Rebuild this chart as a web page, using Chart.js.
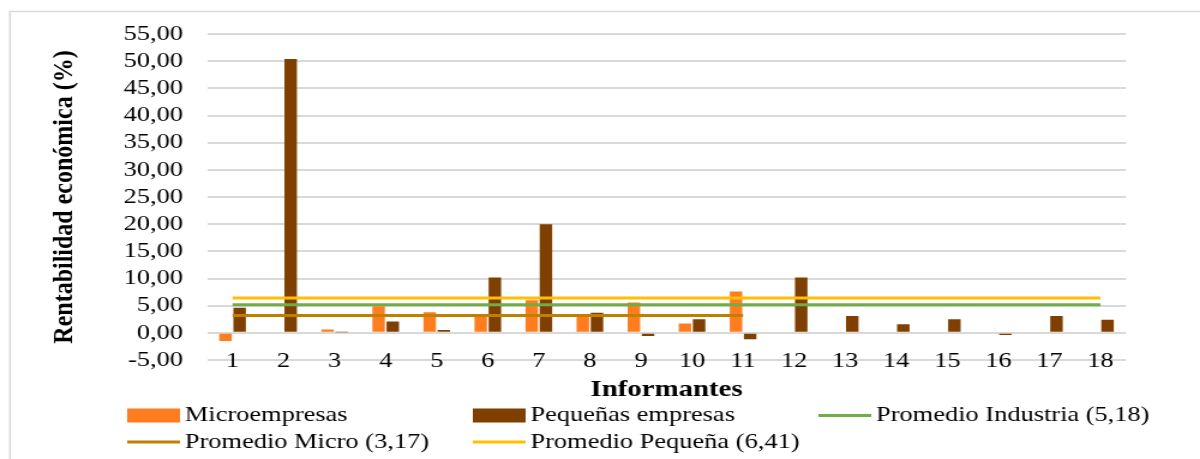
<!DOCTYPE html>
<html>
<head>
<meta charset="utf-8">
<title>Rentabilidad económica por informante</title>
<style>
  html, body { margin: 0; padding: 0; background: #ffffff; overflow: hidden; }
  /* the chart is laid out on a 1000px canvas and widened to fill the 1200px page */
  #wrap { width: 1000px; height: 459px; transform: scaleX(1.2); transform-origin: 0 0; }
  canvas { display: block; }
</style>
<script src="https://cdn.jsdelivr.net/npm/chart.js@4.4.1/dist/chart.umd.min.js"></script>
</head>
<body>
<div id="wrap"><canvas id="chart" width="1000" height="459"></canvas></div>
<script>
// Informantes (eje X)
const informantes = ['1','2','3','4','5','6','7','8','9','10','11','12','13','14','15','16','17','18'];

// Rentabilidad económica (%) por tipo de empresa
const microempresas = [-1.5, 0.0, 0.6, 4.9, 3.8, 3.0, 6.0, 3.3, 5.6, 1.7, 7.6];
const pequenasEmpresas = [4.6, 50.4, 0.1, 2.1, 0.5, 10.2, 20.0, 3.7, -0.6, 2.5, -1.2, 10.2, 3.1, 1.6, 2.5, -0.4, 3.1, 2.4];

// Promedios
const promedioIndustria = [5.18, 5.18, 5.18, 5.18, 5.18, 5.18, 5.18, 5.18, 5.18, 5.18, 5.18, 5.18, 5.18, 5.18, 5.18, 5.18, 5.18, 5.18];
const promedioMicro = [3.17, 3.17, 3.17, 3.17, 3.17, 3.17, 3.17, 3.17, 3.17, 3.17, 3.17];
const promedioPequena = [6.41, 6.41, 6.41, 6.41, 6.41, 6.41, 6.41, 6.41, 6.41, 6.41, 6.41, 6.41, 6.41, 6.41, 6.41, 6.41, 6.41, 6.41];

// Marcas del eje Y
const yTicks = [-5, 0, 5, 10, 15, 20, 25, 30, 35, 40, 45, 50, 55];

const SERIF = "'Liberation Serif', 'Times New Roman', serif";
const fmt = v => v.toFixed(2).replace('.', ',');

// white background and the light frame around the chart
const framePlugin = {
  id: 'frame',
  beforeDraw(chart) {
    const ctx = chart.ctx;
    ctx.save();
    ctx.fillStyle = '#ffffff';
    ctx.fillRect(0, 0, chart.width, chart.height);
    ctx.strokeStyle = '#d9d9d9';
    ctx.lineWidth = 1.5;
    ctx.strokeRect(8.3, 11.5, 1100, 600);
    ctx.restore();
  }
};

// legend laid out as a three-column grid under the axis title
const gridLegend = {
  id: 'gridLegend',
  afterDraw(chart) {
    const ctx = chart.ctx;
    const cols = [106, 394, 682];
    const rows = [415.5, 442];
    const sampleW = 44;
    ctx.save();
    ctx.font = '22px ' + SERIF;
    ctx.textBaseline = 'middle';
    ctx.textAlign = 'left';
    chart.data.datasets.forEach((ds, i) => {
      const x = cols[i % 3];
      const y = rows[Math.floor(i / 3)];
      if (ds.type === 'bar') {
        ctx.fillStyle = ds.backgroundColor;
        ctx.fillRect(x, y - 7, sampleW, 14);
      } else {
        ctx.strokeStyle = ds.borderColor;
        ctx.lineWidth = 3;
        ctx.beginPath();
        ctx.moveTo(x, y);
        ctx.lineTo(x + sampleW, y);
        ctx.stroke();
      }
      ctx.fillStyle = '#000000';
      ctx.fillText(ds.label, x + 48, y);
    });
    ctx.restore();
  }
};

const barCommon = { type: 'bar', order: 2, categoryPercentage: 0.555, barPercentage: 0.88 };
const lineCommon = { type: 'line', order: 1, borderWidth: 3, pointRadius: 0, pointHoverRadius: 0, fill: false, tension: 0 };

new Chart(document.getElementById('chart'), {
  data: {
    labels: informantes,
    datasets: [
      Object.assign({ label: 'Microempresas', data: microempresas, backgroundColor: '#FF7C1F' }, barCommon),
      Object.assign({ label: 'Pequeñas empresas', data: pequenasEmpresas, backgroundColor: '#7F3F00' }, barCommon),
      Object.assign({ label: 'Promedio Industria (5,18)', data: promedioIndustria, borderColor: '#70AD47', backgroundColor: '#70AD47' }, lineCommon),
      Object.assign({ label: 'Promedio Micro (3,17)', data: promedioMicro, borderColor: '#BF8000', backgroundColor: '#BF8000' }, lineCommon),
      Object.assign({ label: 'Promedio Pequeña (6,41)', data: promedioPequena, borderColor: '#FFC000', backgroundColor: '#FFC000' }, lineCommon)
    ]
  },
  options: {
    responsive: false,
    devicePixelRatio: 1,
    animation: false,
    events: [],
    layout: { padding: { left: 30, right: 61.7, top: 34, bottom: 54 } },
    plugins: {
      legend: { display: false },
      tooltip: { enabled: false }
    },
    scales: {
      x: {
        grid: { display: false },
        border: { display: false },
        ticks: {
          // labels sit across the bottom gridline, so they are drawn unclipped
          mirror: true,
          padding: -14.5,
          color: '#000000',
          font: { family: SERIF, size: 22 },
          maxRotation: 0,
          autoSkip: false
        },
        title: {
          display: true,
          text: 'Informantes',
          color: '#000000',
          font: { family: SERIF, size: 24, weight: 'bold' },
          padding: { top: 0, bottom: 1 }
        },
        afterFit(scale) { scale.height = 45; }
      },
      y: {
        min: -5,
        max: 55,
        afterBuildTicks(scale) { scale.ticks = yTicks.map(v => ({ value: v })); },
        grid: { color: '#d9d9d9', lineWidth: 2, drawTicks: false },
        border: { display: false },
        ticks: {
          autoSkip: false,
          padding: 20,
          color: '#000000',
          font: { family: SERIF, size: 22 },
          callback: v => fmt(v)
        },
        title: {
          display: true,
          text: 'Rentabilidad económica (%)',
          color: '#000000',
          font: { family: SERIF, size: 24, weight: 'bold' },
          padding: { top: 9.4, bottom: 0 }
        },
        afterFit(scale) { scale.width = 142.5; }
      }
    }
  },
  plugins: [framePlugin, gridLegend]
});
</script>
</body>
</html>
